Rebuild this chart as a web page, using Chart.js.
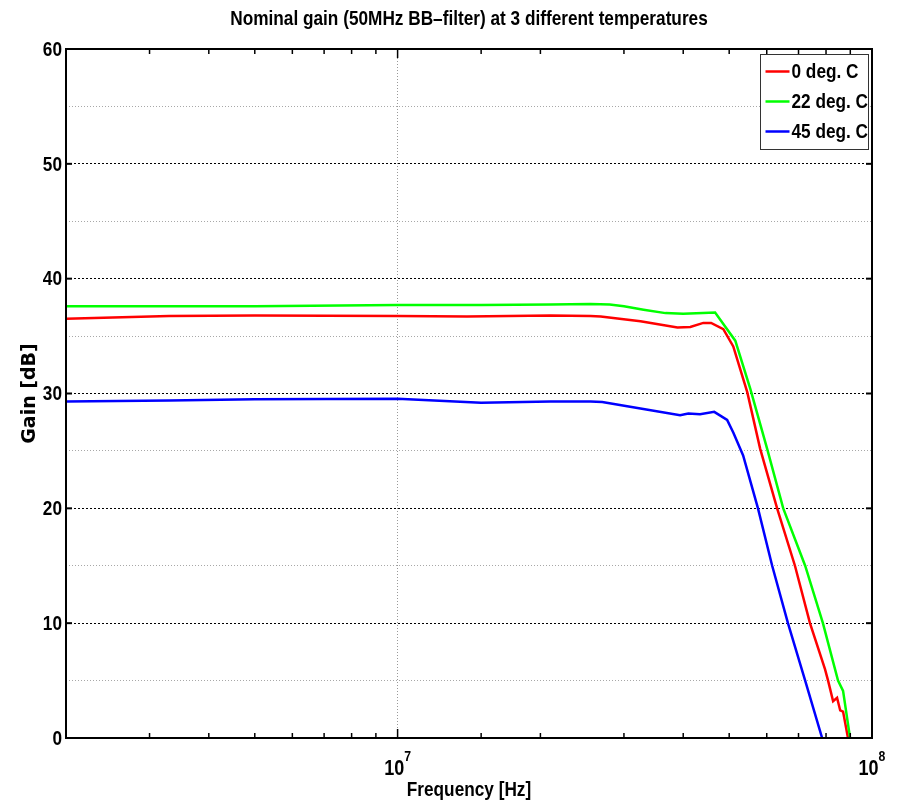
<!DOCTYPE html>
<html>
<head>
<meta charset="utf-8">
<title>Nominal gain</title>
<script src="https://cdn.jsdelivr.net/npm/chart.js@4.4.1/dist/chart.umd.min.js"></script>
<style>
  body { margin: 0; background: #fff; }
  canvas { display: block; }
</style>
</head>
<body>
<canvas id="gain-chart" width="901" height="808"></canvas>
<script>
// values: frequency in Hz, gain in dB
var chartTitle = 'Nominal gain (50MHz BB\u2013filter) at 3 different temperatures';
var xTitle = 'Frequency [Hz]';
var yTitle = 'Gain [dB]';
var labels = ['0 deg. C', '22 deg. C', '45 deg. C'];
var colors = ['#ff0000', '#00ff00', '#0000ff'];

var freq0 = [2.0e6, 3.3e6, 5e6, 1e7, 1.4e7, 2.1e7, 2.55e7, 2.68e7, 3.25e7, 3.89e7, 4.14e7, 4.41e7, 4.58e7, 4.86e7,
             5.10e7, 5.46e7, 5.81e7, 6.31e7, 6.88e7, 7.40e7, 7.96e7, 8.08e7, 8.28e7, 8.44e7, 8.57e7, 8.69e7, 8.90e7];
var gain0 = [36.5, 36.75, 36.8, 36.75, 36.7, 36.8, 36.75, 36.7, 36.3, 35.75, 35.8, 36.15, 36.15, 35.6,
             34.1, 30.1, 25.2, 20.0, 15.0, 10.0, 6.0, 5.0, 3.2, 3.5, 2.4, 2.3, 0];

var freq22 = [2.0e6, 3.3e6, 5e6, 1e7, 1.5e7, 2.1e7, 2.55e7, 2.8e7, 3.0e7, 3.3e7, 3.67e7, 4.0e7, 4.4e7, 4.67e7,
              5.15e7, 5.54e7, 6.01e7, 6.50e7, 7.23e7, 7.88e7, 8.48e7, 8.69e7, 8.99e7];
var gain22 = [37.6, 37.6, 37.6, 37.7, 37.7, 37.75, 37.8, 37.75, 37.6, 37.3, 37.0, 36.95, 37.0, 37.05,
              34.6, 30.4, 25.2, 20.0, 15.0, 10.0, 5.0, 4.1, 0];

var freq45 = [2.0e6, 3.3e6, 5e6, 1e7, 1.5e7, 2.1e7, 2.55e7, 2.7e7, 3.25e7, 3.94e7, 4.1e7, 4.34e7, 4.65e7, 4.95e7,
              5.10e7, 5.35e7, 5.75e7, 6.16e7, 6.65e7, 7.23e7, 7.85e7];
var gain45 = [29.3, 29.4, 29.5, 29.55, 29.2, 29.3, 29.3, 29.25, 28.7, 28.1, 28.25, 28.2, 28.4, 27.7,
              26.6, 24.6, 20.0, 15.0, 10.0, 5.0, 0];

var xDecades = [1e7, 1e8];   // labelled as 10^7, 10^8
var yMajor = 10;

// no narrow face installed, so Helvetica-like text is squeezed sideways
var SANS = "'Liberation Sans', Arial, sans-serif";
var SQUEEZE = 0.82;

function points(fs, gs) {
  var out = [];
  for (var i = 0; i < fs.length; i++) out.push({ x: fs[i], y: gs[i] });
  return out;
}

function isDecade(v) {
  var l = Math.log10(v);
  return Math.abs(l - Math.round(l)) < 1e-9;
}

function narrowWidth(ctx, text, font) {
  ctx.font = font;
  return ctx.measureText(text).width * SQUEEZE;
}

function narrowText(ctx, text, x, y, font, align) {
  ctx.save();
  ctx.font = font;
  ctx.textAlign = align || 'left';
  ctx.translate(x, y);
  ctx.scale(SQUEEZE, 1);
  ctx.fillText(text, 0, 0);
  ctx.restore();
}

var frameBox = {
  id: 'frameBox',
  afterDraw: function(chart) {
    var ctx = chart.ctx, a = chart.chartArea;
    var xs = chart.scales.x, ys = chart.scales.y;

    function seg(x1, y1, x2, y2) {
      ctx.beginPath(); ctx.moveTo(x1, y1); ctx.lineTo(x2, y2); ctx.stroke();
    }

    ctx.save();
    ctx.strokeStyle = '#000';
    ctx.fillStyle = '#000';

    // inward tick marks
    ctx.lineWidth = 1.5;
    xs.ticks.forEach(function(t) {
      var px = xs.getPixelForValue(t.value);
      var len = isDecade(t.value) ? 9 : 5;
      seg(px, a.bottom, px, a.bottom - len);
      seg(px, a.top, px, a.top + len);
    });
    ctx.lineWidth = 2;
    ys.ticks.forEach(function(t) {
      if (t.value % yMajor !== 0) return;
      var py = ys.getPixelForValue(t.value);
      seg(a.left, py, a.left + 6, py);
      seg(a.right, py, a.right - 6, py);
    });

    // axes box
    ctx.lineWidth = 2;
    ctx.strokeRect(a.left, a.top, a.right - a.left, a.bottom - a.top);

    // title
    ctx.textBaseline = 'middle';
    narrowText(ctx, chartTitle, (a.left + a.right) / 2, 19, 'bold 21px ' + SANS, 'center');

    // y tick labels
    ys.ticks.forEach(function(t) {
      if (t.value % yMajor !== 0) return;
      narrowText(ctx, String(t.value), a.left - 4, ys.getPixelForValue(t.value) + 1, 'bold 21px ' + SANS, 'right');
    });

    // x axis title
    narrowText(ctx, xTitle, (a.left + a.right) / 2, a.bottom + 52, 'bold 21px ' + SANS, 'center');

    // decade labels 10^n
    ctx.textBaseline = 'alphabetic';
    xDecades.forEach(function(v) {
      var px = xs.getPixelForValue(v);
      var exp = String(Math.round(Math.log10(v)));
      var wb = narrowWidth(ctx, '10', 'bold 22px ' + SANS);
      var we = narrowWidth(ctx, exp, 'bold 15px ' + SANS);
      var x0 = px - (wb + we) / 2;
      narrowText(ctx, '10', x0, a.bottom + 37, 'bold 22px ' + SANS);
      narrowText(ctx, exp, x0 + wb, a.bottom + 23, 'bold 15px ' + SANS);
    });

    // legend box
    var ds = chart.data.datasets;
    var bw = 108, bh = 95;
    var bx = Math.round(a.right - 4 - bw) + 0.5, by = Math.round(a.top + 5) + 0.5;
    ctx.fillStyle = '#fff';
    ctx.fillRect(bx, by, bw, bh);
    ctx.lineWidth = 1;
    ctx.strokeStyle = '#333';
    ctx.strokeRect(bx, by, bw, bh);
    ctx.textBaseline = 'middle';
    for (var i = 0; i < ds.length; i++) {
      var ry = by + 17 + i * 30;
      ctx.strokeStyle = ds[i].borderColor;
      ctx.lineWidth = 2.5;
      seg(bx + 5, ry, bx + 29, ry);
      ctx.fillStyle = '#000';
      narrowText(ctx, ds[i].label, bx + 31, ry + 1, 'bold 21px ' + SANS);
    }
    ctx.restore();
  }
};

new Chart(document.getElementById('gain-chart'), {
  type: 'line',
  data: {
    datasets: [
      { label: labels[0], data: points(freq0, gain0), borderColor: colors[0], order: 2 },
      { label: labels[1], data: points(freq22, gain22), borderColor: colors[1], order: 1 },
      { label: labels[2], data: points(freq45, gain45), borderColor: colors[2], order: 3 }
    ]
  },
  options: {
    responsive: false,
    animation: false,
    devicePixelRatio: 1,
    elements: {
      line: { borderWidth: 2.5, tension: 0, fill: false },
      point: { radius: 0 }
    },
    layout: { padding: { top: 49, right: 29, bottom: 0, left: 0 } },
    plugins: {
      legend: { display: false },
      tooltip: { enabled: false },
      title: { display: false }
    },
    scales: {
      x: {
        type: 'logarithmic',
        min: 2e6,
        max: 1e8,
        ticks: { display: false },
        grid: {
          drawTicks: false,
          color: function(c) {
            return (c.tick && isDecade(c.tick.value) && c.tick.value < 1e8) ? '#999' : 'rgba(0,0,0,0)';
          }
        },
        border: { display: false, dash: [1, 2] },
        afterFit: function(s) { s.height = 70; }
      },
      y: {
        min: 0,
        max: 60,
        ticks: { stepSize: 5, display: false },
        grid: {
          drawTicks: false,
          color: function(c) {
            if (!c.tick) return '#aaa';
            return c.tick.value % yMajor === 0 ? '#000' : '#a8a8a8';
          }
        },
        border: {
          display: false,
          dash: function(c) {
            return (c.tick && c.tick.value % yMajor === 0) ? [2, 2] : [1, 2];
          }
        },
        title: {
          display: true,
          text: yTitle,
          color: '#000',
          font: { family: "'DejaVu Sans', sans-serif", size: 19, weight: 'bold' },
          padding: { top: 19, bottom: 0 }
        },
        afterFit: function(s) { s.width = 66; }
      }
    }
  },
  plugins: [frameBox]
});
</script>
</body>
</html>
